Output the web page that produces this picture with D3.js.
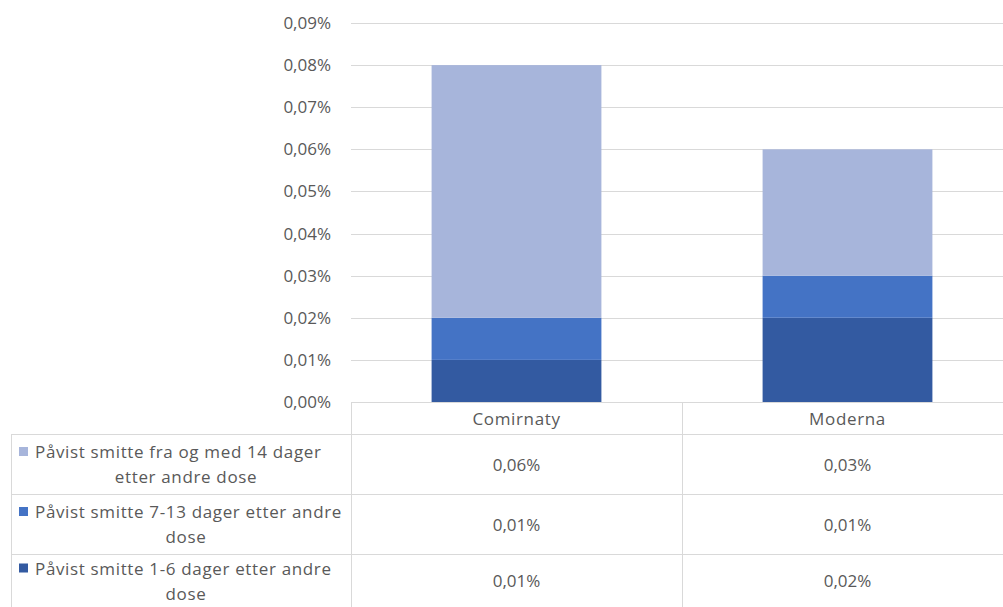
<!DOCTYPE html>
<html>
<head>
<meta charset="utf-8">
<script src="https://cdn.jsdelivr.net/npm/d3@7"></script>
<style>
  html, body { margin: 0; padding: 0; background: #fff; }
  svg { display: block; }
  text { font-family: "Open Sans", "Noto Sans", sans-serif; fill: #595959; }
  .wide { letter-spacing: 0.65px; }
</style>
</head>
<body>
<svg id="chart" width="1003" height="607"></svg>
<script>
// Vaccines on the x axis
const categories = ["Comirnaty", "Moderna"];
// Series, bottom of the stack first
const seriesNames = [
  "Påvist smitte 1-6 dager etter andre dose",
  "Påvist smitte 7-13 dager etter andre dose",
  "Påvist smitte fra og med 14 dager etter andre dose"
];
// Share infected (%), per vaccine
const days1to6 = [0.01, 0.02];
const days7to13 = [0.01, 0.01];
const days14plus = [0.06, 0.03];
const yTicks = [0, 0.01, 0.02, 0.03, 0.04, 0.05, 0.06, 0.07, 0.08, 0.09];
// Wrapped row-header lines for the data table (top row first)
const rowLabelLines = [
  ["Påvist smitte fra og med 14 dager", "etter andre dose"],
  ["Påvist smitte 7-13 dager etter andre", "dose"],
  ["Påvist smitte 1-6 dager etter andre", "dose"]
];

const colors = ["#335aa1", "#4473c5", "#a7b5db"];
const seriesValues = [days1to6, days7to13, days14plus];
const FS = "17px";

const svg = d3.select("#chart");
const plotLeft = 351, plotRight = 1013, plotTop = 23, plotBottom = 402;
const tableLeft = 11;
const rowEdges = [402, 434, 494, 554, 614];

const locale = d3.formatLocale({ decimal: ",", thousands: " ", grouping: [3], currency: ["", " kr"] });
const fmt = v => locale.format(".2f")(v) + "%";

const x = d3.scaleBand().domain(categories).range([plotLeft, plotRight]).padding(0);
const y = d3.scaleLinear().domain([0, 0.09]).range([plotBottom, plotTop]);
const barW = x.bandwidth() * 0.513;

// Gridlines
svg.append("g").selectAll("line").data(yTicks.filter(t => t > 0)).join("line")
  .attr("x1", plotLeft).attr("x2", 1003)
  .attr("y1", d => Math.round(y(d)) + 0.5).attr("y2", d => Math.round(y(d)) + 0.5)
  .attr("stroke", "#d9d9d9").attr("stroke-width", 1);

// Y axis labels
const yAxis = d3.axisLeft(y).tickValues(yTicks).tickFormat(fmt).tickSize(0).tickPadding(20);
const yg = svg.append("g").attr("transform", `translate(${plotLeft},0)`).call(yAxis);
yg.select(".domain").remove();
yg.selectAll("text").style("font-family", "\"Open Sans\", sans-serif").style("font-size", FS).attr("fill", "#595959");

// Stacked bars
const rows = categories.map((c, i) => {
  const r = { cat: c };
  seriesNames.forEach((s, k) => r[s] = seriesValues[k][i]);
  return r;
});
const stacked = d3.stack().keys(seriesNames)(rows);
svg.append("g").selectAll("g").data(stacked).join("g")
  .attr("fill", (d, i) => colors[i])
  .selectAll("rect").data(d => d).join("rect")
  .attr("x", d => x(d.data.cat) + (x.bandwidth() - barW) / 2)
  .attr("width", barW)
  .attr("y", d => y(d[1]))
  .attr("height", d => y(d[0]) - y(d[1]));

// Data table grid
const grid = svg.append("g").attr("stroke", "#d9d9d9").attr("stroke-width", 1);
grid.append("line").attr("x1", plotLeft).attr("x2", 1003).attr("y1", rowEdges[0] + 0.5).attr("y2", rowEdges[0] + 0.5);
rowEdges.slice(1, 4).forEach(e => {
  grid.append("line").attr("x1", tableLeft).attr("x2", 1003).attr("y1", e + 0.5).attr("y2", e + 0.5);
});
[plotLeft, x("Moderna")].forEach(px => {
  grid.append("line").attr("x1", Math.round(px) + 0.5).attr("x2", Math.round(px) + 0.5).attr("y1", rowEdges[0]).attr("y2", 607);
});
grid.append("line").attr("x1", tableLeft + 0.5).attr("x2", tableLeft + 0.5).attr("y1", rowEdges[1]).attr("y2", 607);

// Category header
svg.append("g").selectAll("text").data(categories).join("text")
  .attr("class", "wide")
  .attr("x", d => x(d) + x.bandwidth() / 2)
  .attr("y", (rowEdges[0] + rowEdges[1]) / 2)
  .attr("text-anchor", "middle").attr("dominant-baseline", "central")
  .style("font-size", FS).text(d => d);

// Table rows: top row is the last series
const tableSeries = [2, 1, 0];
tableSeries.forEach((k, r) => {
  const top = rowEdges[r + 1], bottom = rowEdges[r + 2] > 607 ? 607 : rowEdges[r + 2];
  const mid = (top + bottom) / 2;
  const lines = rowLabelLines[r];
  const lh = 25;
  lines.forEach((ln, li) => {
    const ty = mid + (li - (lines.length - 1) / 2) * lh;
    const t = svg.append("text")
      .attr("class", "wide")
      .attr("y", ty).attr("dominant-baseline", "central")
      .style("font-size", FS).text(ln);
    if (li === 0) {
      svg.append("rect").attr("x", tableLeft + 8).attr("y", ty - 4.5).attr("width", 9).attr("height", 9).attr("fill", colors[k]);
      t.attr("x", tableLeft + 24);
    } else {
      t.attr("x", 186).attr("text-anchor", "middle");
    }
  });
  categories.forEach((c, i) => {
    svg.append("text")
      .attr("x", x(c) + x.bandwidth() / 2).attr("y", mid)
      .attr("text-anchor", "middle").attr("dominant-baseline", "central")
      .style("font-size", FS).text(fmt(seriesValues[k][i]));
  });
});
</script>
</body>
</html>
